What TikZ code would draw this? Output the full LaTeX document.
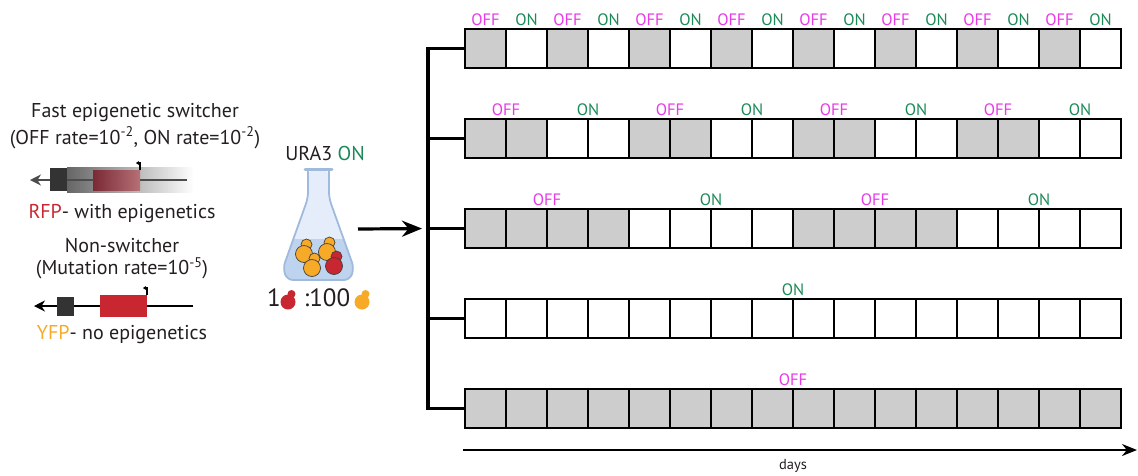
\documentclass[tikz,border=0pt]{standalone}
\usepackage{fontspec}
\setmainfont{PT Sans}
\usetikzlibrary{positioning, arrows.meta}

\definecolor{offpink}{RGB}{232,58,232}
\definecolor{ongreen}{RGB}{28,138,88}
\definecolor{cellgray}{RGB}{205,205,205}
\definecolor{rfpred}{RGB}{200,38,48}
\definecolor{yfpyellow}{RGB}{246,170,40}
\definecolor{glassline}{RGB}{160,186,222}
\definecolor{glassfill}{RGB}{228,237,249}
\definecolor{broth}{RGB}{190,211,238}
\definecolor{inkgray}{RGB}{35,31,32}

\begin{document}
\begin{tikzpicture}[x=1pt, y=-1pt,
        every node/.style={text=inkgray},
        txt/.style={font=\fontsize{20}{23}\selectfont, inner sep=0pt},
        cell/.style={draw=black, line width=1.9pt, minimum width=41pt, minimum height=39pt, inner sep=0pt, outer sep=0pt},
        statelab/.style={font=\fontsize{16.5}{19}\selectfont, inner sep=0pt, anchor=south},
        bracket/.style={line width=3.5pt},
        arrow/.style={-{Stealth[length=20pt, width=16pt]}, line width=3.2pt},
        gene/.style={line width=1.8pt},
        pics/yeast/.style={code={
            \filldraw[fill=#1, draw=black!75, line width=0.7pt] (2.5,-9.5) circle (5.5);
            \filldraw[fill=#1, draw=black!75, line width=0.7pt] (0,0) circle (8.5);}},
        pics/yeasticon/.style={code={
            \fill[#1] (3.5,-8) circle (4);
            \fill[#1] (0,0) circle (7.5);}}
        ]
    \useasboundingbox (0,0) rectangle (1138,475);

    % the two reporter constructs
    \node[txt] (fasttitle) at (135,113) {Fast epigenetic switcher};
    \node[txt, below=4pt of fasttitle] (fastrates) {(OFF rate=10\textsuperscript{-2}, ON rate=10\textsuperscript{-2})};

    \shade[left color=black!60, middle color=black!30, right color=white] (67,167) rectangle (194,192);
    \draw[gene, black!70, -{Stealth[length=11pt, width=11pt]}] (187,180) -- (30,180);
    \fill[black!80] (50,168) rectangle (67,191);
    \shade[left color={rgb,255:red,122;green,42;blue,52}, right color={rgb,255:red,182;green,112;blue,118}] (93,170) rectangle (140,190);
    \draw[line width=1.6pt, -{Stealth[length=3pt, width=4pt]}] (140,170) -- (140,163) -- (136,163);

    \node[txt] (rfplab) at (122,214) {\textcolor{rfpred}{RFP}- with epigenetics};
    \node[txt] (nontitle) at (122,246) {Non-switcher};
    \node[txt, below=4pt of nontitle] (nonrate) {(Mutation rate=10\textsuperscript{-5})};

    \draw[gene, -{Stealth[length=11pt, width=11pt]}] (193,306) -- (34,306);
    \fill[black!80] (57,297) rectangle (74,316);
    \fill[rfpred] (100,295) rectangle (147,317);
    \draw[line width=1.6pt, -{Stealth[length=3pt, width=4pt]}] (147,295) -- (147,288) -- (143,288);

    \node[txt] (yfplab) at (122,335) {\textcolor{yfpyellow}{YFP}- no epigenetics};

    % flask with the mixed culture
    \node[txt] (ura) at (325,153) {URA3 \textcolor{ongreen}{ON}};
    \def\flaskpath{(308,170) -- (308,198) -- (283,268) -- (287,280) -- (350,280) -- (354,268) -- (329,198) -- (329,170)}
    \fill[glassfill, rounded corners=6pt] \flaskpath -- cycle;
    \begin{scope}
        \clip[rounded corners=6pt] \flaskpath -- cycle;
        \fill[broth] (280,239) rectangle (360,285);
    \end{scope}
    \draw[glassline, line width=1.8pt, rounded corners=6pt] \flaskpath;
    \draw[glassline, line width=3pt, line cap=round] (305,169) -- (332,169);
    \pic at (304,254) {yeast=yfpyellow};
    \pic at (327,252) {yeast=yfpyellow};
    \pic at (312,268) {yeast=yfpyellow};
    \pic at (334,266) {yeast=rfpred};

    \node[txt, font=\fontsize{25}{28}\selectfont] (one) at (274,298) {1};
    \pic at (288,302) {yeasticon=rfpred};
    \node[txt, font=\fontsize{25}{28}\selectfont] (ratio) at (327,298) {:100};
    \pic at (362,302) {yeasticon=yfpyellow};

    \coordinate (flaskout) at (358,229);

    % five lineages, 16 days each
    \foreach \r/\blk/\first in {1/1/0, 2/2/0, 3/4/0, 4/16/1, 5/16/0}{
        \pgfmathsetmacro\ytop{29+90*(\r-1)}
        \coordinate (br\r) at (428,\ytop+19.5);
        \foreach \c in {1,...,16}{
            \pgfmathtruncatemacro\isoff{mod(floor((\c-1)/\blk)+\first,2)==0}
            \ifnum\isoff=1 \def\cf{cellgray}\else\def\cf{white}\fi
            \node[cell, fill=\cf, anchor=north west] (r\r-\c) at ({465+41*(\c-1)},\ytop) {};
        }
        \pgfmathtruncatemacro\nb{16/\blk-1}
        \foreach \k in {0,...,\nb}{
            \pgfmathtruncatemacro\isoff{mod(\k+\first,2)==0}
            \ifnum\isoff=1 \def\lc{offpink}\def\lt{OFF}\else\def\lc{ongreen}\def\lt{ON}\fi
            \node[statelab, text=\lc] (lab\r-\k) at ({465+41*(\k*\blk+\blk/2)},\ytop-3) {\lt};
        }
    }

    \draw[bracket] (r1-1.west) -| (br5) -- (r5-1.west);
    \foreach \r in {2,3,4}
        \draw[bracket] (br\r) -- (r\r-1.west);
    \draw[arrow, shorten >=6pt] (flaskout) -- (br3);

    % time axis
    \coordinate (dstart) at (463,450);
    \coordinate (dend) at (1137,450);
    \draw[line width=1.8pt, -{Stealth[length=15pt, width=12pt]}] (dstart) -- (dend);
    \node[inner sep=0pt, font=\fontsize{14.5}{17}\selectfont] (days) at (793,466) {days};
\end{tikzpicture}
\end{document}
